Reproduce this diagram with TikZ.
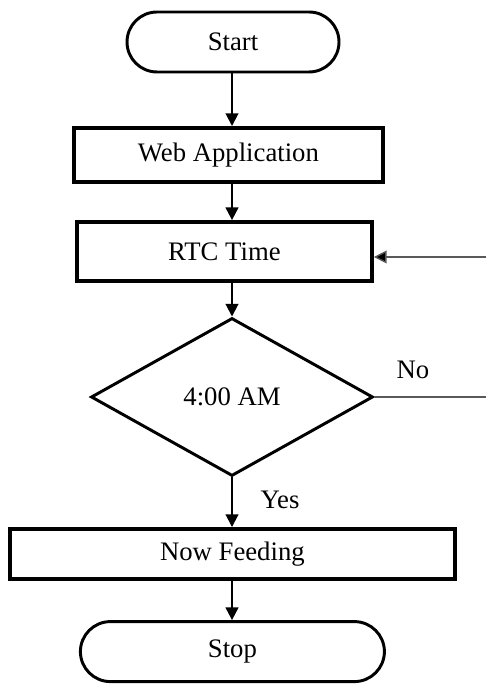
\documentclass[tikz,border=0pt]{standalone}
\usepackage{fontspec}
\setmainfont{Liberation Serif}
\usetikzlibrary{arrows.meta,shapes.geometric}

\tikzset{
    >={Triangle[length=9pt,width=9pt]},
    label text/.style={font=\fontsize{19}{23}\selectfont},
    terminal/.style={draw, line width=2.1pt, rounded corners=0.75cm, minimum width=5.3cm, minimum height=1.5cm, label text},
    process/.style={draw, line width=2.8pt, minimum height=1.35cm, label text},
    decision/.style={draw, diamond, aspect=1.8, inner sep=0pt, line width=2.1pt, minimum width=7.05cm, minimum height=3.95cm, label text},
    flow/.style={line width=1.4pt, ->},
    loop line/.style={line width=1pt, draw=black!65},
}

\begin{document}
\begin{tikzpicture}
    \useasboundingbox (0,0) rectangle (12.15,17.1);
    \node[terminal] (start) at (5.825,16.05) {Start};
    \node[process, minimum width=7.725cm] (web) at (5.71,13.225) {Web Application};
    \node[process, minimum width=7.375cm, minimum height=1.475cm] (rtc) at (5.61,10.81) {RTC Time};
    \node[decision] (check) at (5.8,7.175) {4:00 AM};
    \node[process, minimum width=11.125cm, minimum height=1.25cm] (feed) at (5.81,3.25) {Now Feeding};
    \node[terminal, minimum width=7.6cm] (stop) at (5.81,0.81) {Stop};
    \node[label text] (nolabel) at (10.325,7.85) {No};
    \node[label text] (yeslabel) at (7.0,4.6) {Yes};
    \coordinate (noend) at (12.15,7.175);
    \coordinate (backin) at (12.15,10.675);
    % main flow
    \draw[flow] (check |- start.south) -- (check |- web.north);
    \draw[flow] (check |- web.south) -- (check |- rtc.north);
    \draw[flow] (check |- rtc.south) -- (check.north);
    \draw[flow] (check.south) -- (check |- feed.north);
    \draw[flow] (check |- feed.south) -- (check |- stop.north);
    % loop back
    \draw[loop line] (check.east) -- (noend);
    \draw[loop line, -{Triangle[length=9pt,width=9pt,fill=black]}] (backin) -- (backin -| rtc.east);
\end{tikzpicture}
\end{document}
